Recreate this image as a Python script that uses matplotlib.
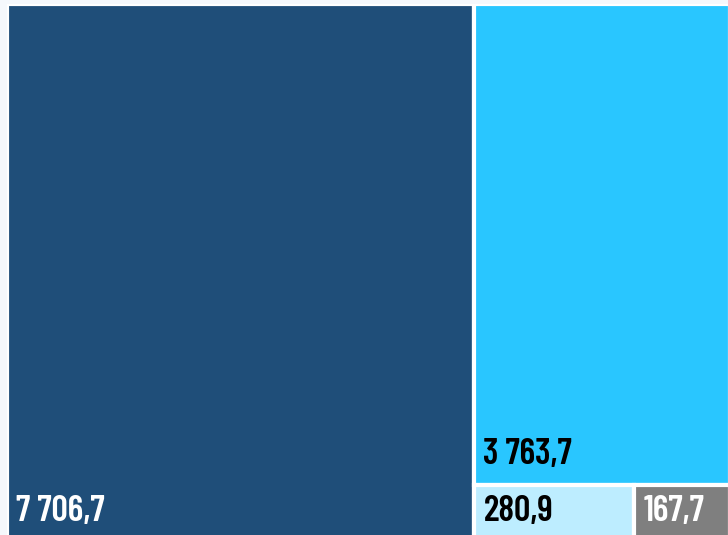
import matplotlib
matplotlib.use('Agg')
import matplotlib.pyplot as plt
from matplotlib.patches import Rectangle

values = [7706.7, 3763.7, 280.9, 167.7]
labels = ['7 706,7', '3 763,7', '280,9', '167,7']
colors = ['#1f4e79', '#29c6ff', '#bdedff', '#7f7f7f']
text_colors = ['white', 'black', 'black', 'white']

W, H = 723.0, 538.0
gap = 3.0

total = sum(values)
rects = []
# first block takes a full-height column on the left
w0 = W * values[0] / total
rects.append((0, 0, w0, H))
rest = sum(values[1:])
# right column: top block, then bottom row split horizontally
h1 = H * values[1] / rest
rects.append((w0, H - h1, W - w0, h1))
bottom_total = values[2] + values[3]
w2 = (W - w0) * values[2] / bottom_total
rects.append((w0, 0, w2, H - h1))
rects.append((w0 + w2, 0, W - w0 - w2, H - h1))

fig = plt.figure(figsize=(7.28, 5.35), dpi=100)
fig.patch.set_facecolor('#f5f8fc')
ax = fig.add_axes([7 / 728, -7 / 535, W / 728, H / 535])
ax.set_xlim(0, W)
ax.set_ylim(0, H)
ax.axis('off')

for (x, y, w, h), c, lab, tc in zip(rects, colors, labels, text_colors):
    ax.add_patch(Rectangle((x, y), w, h, facecolor=c, edgecolor='white', linewidth=gap))
    ax.text(x + 9, y + 21, lab, color=tc, fontsize=26, fontweight=600,
            family=['Barlow Condensed', 'DejaVu Sans'], va='baseline', ha='left')

fig.savefig('out.png', dpi=100, facecolor=fig.get_facecolor())
